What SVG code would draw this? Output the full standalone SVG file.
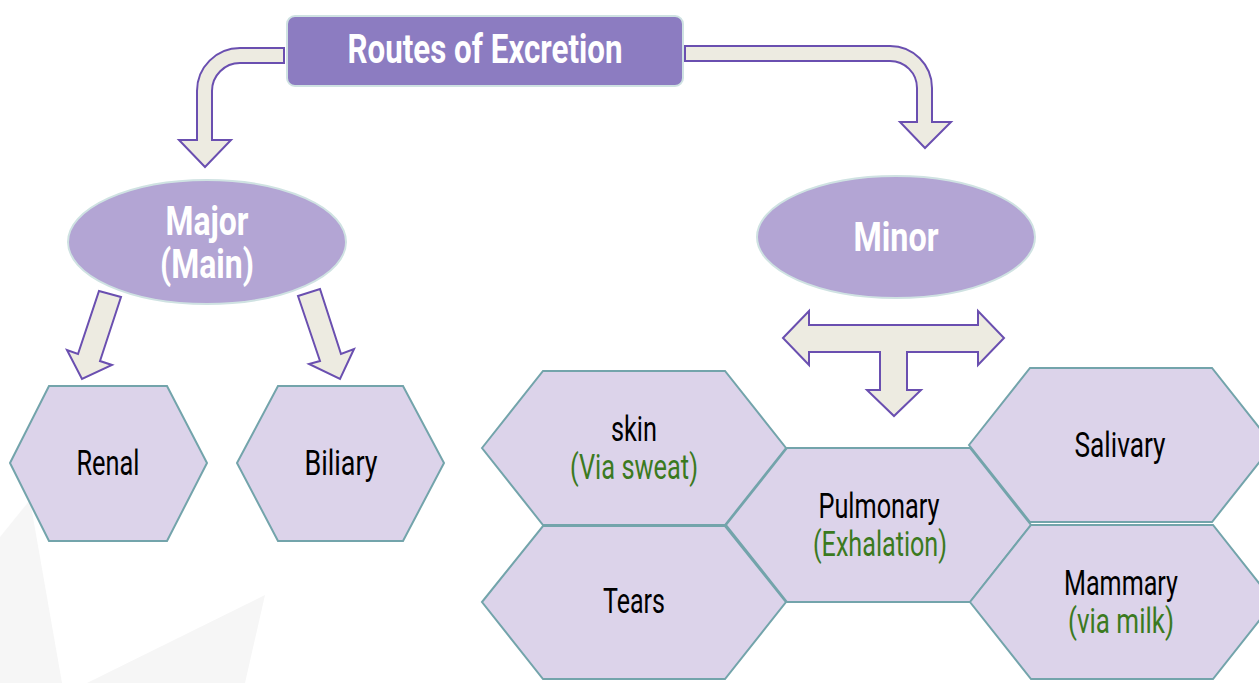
<svg xmlns="http://www.w3.org/2000/svg" width="1259" height="683" viewBox="0 0 1259 683">
<style>
.bg{fill:#f6f6f6;stroke:none}
.arrow{fill:#edebe1;stroke:#6a4fb0;stroke-width:2;stroke-linejoin:miter}
.hex{fill:#dcd3ea;stroke:#73a4ab;stroke-width:2}
.title{fill:#8c7cc1;stroke:#cfe2e2;stroke-width:2}
.ell{fill:#b3a5d4;stroke:#cfe2e2;stroke-width:2}
text{font-family:"Roboto","Liberation Sans",sans-serif;text-anchor:middle}
.hd{fill:#ffffff;font-weight:bold;font-size:40px}
.lb{fill:#000000;font-size:35px}
.gr{fill:#3b7a1f;font-size:35px}
</style>
<g id="background">
<polygon class="bg" points="0,537 30,500 62,683 0,683"/>
<polygon class="bg" points="87,683 265,595 245,683"/>
</g>
<g id="connectors">
<path class="arrow" d="M284 48 L240 48 A43 43 0 0 0 197 91 L197 140 L179 140 L205 167 L231 140 L212 140 L212 91 A28 28 0 0 1 240 63 L284 63 Z"/>
<path class="arrow" d="M685 46 L890 46 A42 42 0 0 1 932 88 L932 122 L951 122 L925 148 L900 122 L917 122 L917 88 A27 27 0 0 0 890 61 L685 61 Z"/>
<polygon class="arrow" points="99,291 121,297 100,361 112,365 82,379 67,350 78,354"/>
<polygon class="arrow" points="298,296 320,289 341,354 354,349 340,379 309,364 320,361"/>
<polygon class="arrow" points="783,338 809,311 809,325 978,325 978,311 1004,338 978,365 978,352 907,352 907,390 921,390 894,416 867,390 880,390 880,352 809,352 809,365"/>
</g>
<g id="node-title">
<rect class="title" x="287" y="16" width="396" height="70" rx="8"/>
<text class="hd" x="485" y="63" textLength="275" lengthAdjust="spacingAndGlyphs">Routes of Excretion</text>
</g>
<g id="node-major">
<ellipse class="ell" cx="207" cy="242" rx="139" ry="62"/>
<text class="hd" x="207" y="235" textLength="83" lengthAdjust="spacingAndGlyphs">Major</text>
<text class="hd" x="207" y="278" textLength="94" lengthAdjust="spacingAndGlyphs">(Main)</text>
</g>
<g id="node-minor">
<ellipse class="ell" cx="896" cy="237" rx="139" ry="61"/>
<text class="hd" x="896" y="251" textLength="85" lengthAdjust="spacingAndGlyphs">Minor</text>
</g>
<g id="node-renal">
<polygon class="hex" points="10,463 49,386 167,386 207,463 167,541 49,541"/>
<text class="lb" x="108" y="475" textLength="63" lengthAdjust="spacingAndGlyphs">Renal</text>
</g>
<g id="node-biliary">
<polygon class="hex" points="237,463 278,386 403,386 444,463 403,541 278,541"/>
<text class="lb" x="341" y="475" textLength="73" lengthAdjust="spacingAndGlyphs">Biliary</text>
</g>
<g id="node-skin">
<polygon class="hex" points="482,448 543,371 725,371 786,448 725,525 543,525"/>
<text class="lb" x="634" y="441" textLength="46" lengthAdjust="spacingAndGlyphs">skin</text>
<text class="gr" x="634" y="479" textLength="128" lengthAdjust="spacingAndGlyphs">(Via sweat)</text>
</g>
<g id="node-tears">
<polygon class="hex" points="482,602 543,526 725,526 786,602 725,679 543,679"/>
<text class="lb" x="634" y="613" textLength="62" lengthAdjust="spacingAndGlyphs">Tears</text>
</g>
<g id="node-pulmonary">
<polygon class="hex" points="726,525 787,448 970,448 1031,525 970,602 787,602"/>
<text class="lb" x="879" y="518" textLength="121" lengthAdjust="spacingAndGlyphs">Pulmonary</text>
<text class="gr" x="880" y="556" textLength="134" lengthAdjust="spacingAndGlyphs">(Exhalation)</text>
</g>
<g id="node-salivary">
<polygon class="hex" points="969,445 1030,368 1212,368 1273,445 1212,522 1030,522"/>
<text class="lb" x="1120" y="457" textLength="91" lengthAdjust="spacingAndGlyphs">Salivary</text>
</g>
<g id="node-mammary">
<polygon class="hex" points="970,602 1031,525 1213,525 1274,602 1213,679 1031,679"/>
<text class="lb" x="1121" y="595" textLength="114" lengthAdjust="spacingAndGlyphs">Mammary</text>
<text class="gr" x="1121" y="633" textLength="106" lengthAdjust="spacingAndGlyphs">(via milk)</text>
</g>
</svg>
